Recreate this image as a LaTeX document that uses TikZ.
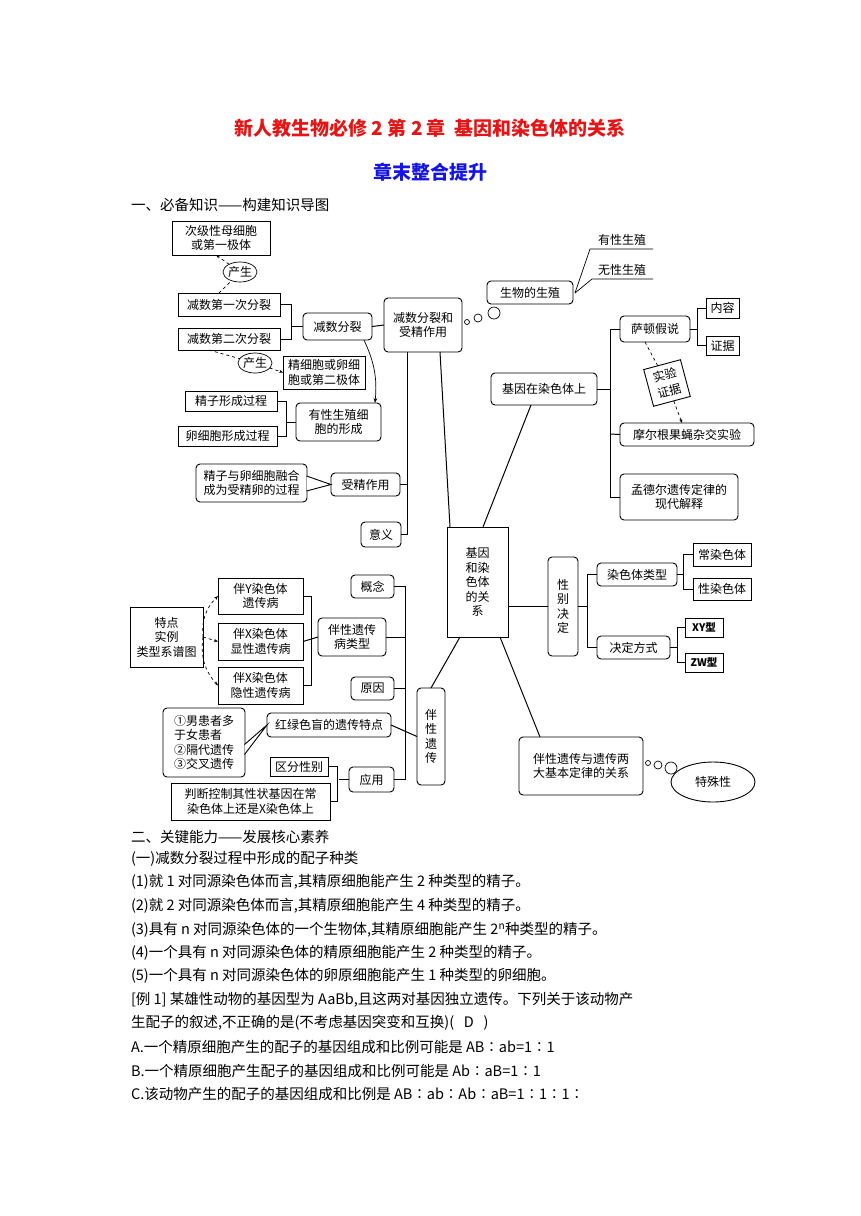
\documentclass[tikz,border=0pt]{standalone}
\usepackage{fontspec}
\setmainfont{Liberation Serif}
\newfontfamily\cjk{Noto Sans CJK SC}
\usetikzlibrary{arrows.meta,shapes.geometric}
\definecolor{tred}{RGB}{230,20,20}
\definecolor{tblue}{RGB}{20,20,230}
\newcommand\B[7]{\node[#6,minimum width={#4pt-#2pt},minimum height={#5pt-#3pt}] (#1) at ({(#2+#4)/2},{(#3+#5)/2}) {#7};}
\begin{document}
\begin{tikzpicture}[x=1pt,y=-1pt,
  every node/.style={font=\cjk\fontsize{12}{14.5}\selectfont,inner sep=0pt,outer sep=0pt,align=center},
  sq/.style={draw,line width=0.9pt},
  rb/.style={draw,line width=0.9pt,rounded corners=4pt},
  ln/.style={line width=1pt},
  dsh/.style={dashed,line width=0.7pt,-{Stealth[length=4pt]}},
  body/.style={anchor=west,font=\cjk\fontsize{14.5}{16}\selectfont,align=left}]
\useasboundingbox (0,0) rectangle (860,1216);
\node[font=\cjk\bfseries\fontsize{19}{22}\selectfont,text=tred] (t1) at (430,128) {新人教生物必修 2 第 2 章\ \ 基因和染色体的关系};
\node[font=\cjk\bfseries\fontsize{19}{22}\selectfont,text=tblue] (t2) at (430,172) {章末整合提升};
\node[body] (s1) at (131,205) {一、必备知识——构建知识导图};
\B{cj}{172}{221}{270}{255}{sq}{次级性母细胞\\或第一极体}
\B{d1}{178}{293}{280}{316}{sq}{减数第一次分裂}
\B{d2}{178}{328}{280}{350}{sq}{减数第二次分裂}
\B{js}{303}{313}{372}{340}{rb}{减数分裂}
\B{JS}{384}{298}{462}{352}{rb}{减数分裂和\\受精作用}
\node[draw,ellipse,line width=0.7pt,minimum width=30pt,minimum height=20pt] (cs1) at (240,272) {产生};
\node[draw,ellipse,line width=0.7pt,minimum width=30pt,minimum height=20pt] (cs2) at (255,363) {产生};
\B{jx}{283}{356}{365}{389}{sq}{精细胞或卵细\\胞或第二极体}
\B{jz}{185}{391}{277}{411}{sq}{精子形成过程}
\B{lx}{178}{426}{277}{446}{sq}{卵细胞形成过程}
\B{yx}{296}{403}{381}{441}{rb}{有性生殖细\\胞的形成}
\B{rh}{196}{464}{307}{502}{rb}{精子与卵细胞融合\\成为受精卵的过程}
\B{sj}{331}{473}{400}{496}{rb}{受精作用}
\B{yy}{361}{522}{401}{547}{rb}{意义}
\draw[dsh] ([xshift=-10pt]d1.north) -- (cs1) -- ([xshift=-5pt]cj.south);
\draw[dsh] ([xshift=-20pt]d2.south) -- (cs2) -- (jx.west);
\draw[ln] (d1.east) -- ++(11,0) |- (d2.east);
\draw[ln] ([xshift=11pt]d1.east |- js.west) -- (js.west);
\draw[ln] (js.east) -- (JS.west);
\draw[line width=0.7pt,-{Stealth[length=5pt]}] ([xshift=-8pt]js.south east) to[bend left=15] ([xshift=-6pt]yx.north east);
\draw[ln] (jz.east) -- ++(9,0) |- (lx.east);
\draw[ln] ([xshift=9pt]jz.east |- yx.west) -- (yx.west);
\draw[ln] ([xshift=-16pt]JS.south) -- ([xshift=-16pt]JS.south |- yy.east) -- (yy.east);
\draw[ln] (sj.east) -- ([xshift=-16pt]JS.south |- sj.east);
\fill[white] ([yshift=-8pt]rh.east) -- (sj.west) -- ([yshift=7pt]rh.east) -- cycle;
\draw[line width=0.9pt] ([xshift=-0.5pt,yshift=-8pt]rh.east) -- (sj.west) -- ([xshift=-0.5pt,yshift=7pt]rh.east);
\B{C}{447}{527}{508}{637}{sq}{基因\\和染\\色体\\的关\\系}
\draw[ln] ([xshift=3pt]C.north west) -- ([xshift=-22pt]JS.south east);
\B{sw}{487}{281}{573}{304}{rb}{生物的生殖}
\foreach \p/\r in {{(467,322)}/2.5,{(478,318)}/4,{(494,313)}/6}{\draw[line width=0.7pt] \p circle (\r);}
\node (ys) at (622,240) {有性生殖};
\node (ws) at (622,270) {无性生殖};
\coordinate (sr) at (575,293);
\draw[line width=0.7pt] (sr) -- (590,249) -- (653,249);
\draw[line width=0.7pt] (sr) -- (592,279) -- (653,279);
\B{gz}{491}{373}{597}{405}{rb}{基因在染色体上}
\draw[ln] ([xshift=36pt]C.north west) -- ([xshift=40pt]gz.south west);
\B{sd}{620}{316}{690}{342}{rb}{萨顿假说}
\B{mg}{620}{423}{754}{446}{rb}{摩尔根果蝇杂交实验}
\B{md}{620}{474}{738}{520}{rb}{孟德尔遗传定律的\\现代解释}
\B{nr}{706}{298}{739}{318}{sq}{内容}
\B{zj}{706}{336}{739}{355}{sq}{证据}
\draw[ln] (gz.east) -- (610,389);
\draw[ln] (sd.west) -| (610,497) -- (md.west);
\draw[ln] (610,434) -- (mg.west);
\draw[ln] (nr.west) -- ++(-9,0) |- (zj.west);
\draw[ln] (sd.east) -- ([xshift=-9pt]nr.west |- sd.east);
\node[sq,rotate=15,minimum width=38pt,minimum height=38pt,font=\cjk\fontsize{12}{17}\selectfont] (sy) at (667,383) {实验\\证据};
\draw[dashed,line width=0.7pt] ([xshift=-10pt]sd.south) -- (sy);
\draw[dsh] (sy) -- ([xshift=-5pt]mg.north);
\B{xb}{548}{557}{578}{656}{rb}{性\\别\\决\\定}
\draw[ln] (C.east |- xb.west) -- (xb.west);
\B{rs}{597}{563}{677}{586}{rb}{染色体类型}
\B{jd}{597}{636}{670}{659}{rb}{决定方式}
\draw[ln] (rs.west) -- ++(-10,0) |- (jd.west);
\draw[ln] (xb.east) -- (587,606.5);
\B{cr}{693}{543}{751}{566}{sq}{常染色体}
\B{xr}{693}{578}{751}{600}{sq}{性染色体}
\B{xy}{685}{618}{723}{637}{sq}{\fontsize{10.5}{12}\selectfont\bfseries XY型}
\B{zw}{685}{653}{723}{672}{sq}{\fontsize{10.5}{12}\selectfont\bfseries ZW型}
\draw[ln] (cr.west) -- ++(-10,0) |- (xr.west);
\draw[ln] (rs.east) -- (683,574.5);
\draw[ln] (xy.west) -- ++(-8,0) |- (zw.west);
\draw[ln] (jd.east) -- (677,647.5);
\B{gx}{519}{737}{643}{795}{rb}{伴性遗传与遗传两\\大基本定律的关系}
\draw[ln] ([xshift=-8pt]C.south east) -- ([xshift=21pt]gx.north west);
\foreach \p/\r in {{(648,763)}/2.5,{(658,765)}/4,{(671,768)}/6}{\draw[line width=0.7pt] \p circle (\r);}
\node[draw,ellipse,line width=0.9pt,minimum width=84pt,minimum height=40pt] (ts) at (713,782) {特殊性};
\B{bx}{417}{688}{445}{785}{rb}{伴\\性\\遗\\传}
\draw[ln] ([xshift=13pt]C.south west) -- (bx.north);
\B{gn}{351}{575}{394}{598}{rb}{概念}
\B{lx2}{318}{618}{386}{656}{rb}{伴性遗传\\病类型}
\B{yy2}{351}{677}{394}{700}{rb}{原因}
\B{hl}{267}{713}{391}{737}{rb}{红绿色盲的遗传特点}
\B{yyo}{349}{767}{394}{792}{rb}{应用}
\draw[ln] (gn.east) -- (405,586.5) |- (yyo.east);
\draw[ln] (lx2.east) -- (405,637);
\draw[ln] (yy2.east) -- (405,688.5);
\draw[ln] (hl.east) -- (bx.west);
\B{by}{218}{578}{303}{614}{sq}{伴Y染色体\\遗传病}
\B{bxx}{218}{623}{303}{660}{sq}{伴X染色体\\显性遗传病}
\B{byx}{218}{667}{303}{704}{sq}{伴X染色体\\隐性遗传病}
\draw[ln] (by.east) -- ++(8,0) |- (byx.east);
\draw[ln] (bxx.east) -- (lx2.west);
\B{td}{130}{607}{203}{667}{sq}{特点\\实例\\类型系谱图}
\draw[dsh] (td.east) to[bend left=25] (by.west);
\draw[dsh] (td.east) -- (bxx.west);
\draw[dsh] (td.east) to[bend right=25] (byx.west);
\node[rb,minimum width=82pt,minimum height=69pt,align=left] (nh) at (204,742.5) {①男患者多\\于女患者\\②隔代遗传\\③交叉遗传};
\fill[white] ([yshift=-12pt]nh.east) -- (hl.west) -- ([yshift=-2pt]nh.east) -- cycle;
\draw[line width=0.9pt] ([xshift=-0.5pt,yshift=-12pt]nh.east) -- (hl.west) -- ([xshift=-0.5pt,yshift=-2pt]nh.east);
\B{qf}{270}{757}{328}{776}{sq}{区分性别}
\B{pd}{171}{783}{330}{820}{sq}{判断控制其性状基因在常\\染色体上还是X染色体上}
\draw[ln] (qf.east) -- ++(9,0) |- (pd.east);
\draw[ln] (yyo.west) -- (339,779.5);
\node[body] (l1) at (131,837) {二、关键能力——发展核心素养};
\node[body] (l2) at (131,859) {(一)减数分裂过程中形成的配子种类};
\node[body] (l3) at (131,882) {(1)就 1 对同源染色体而言,其精原细胞能产生 2 种类型的精子。};
\node[body] (l4) at (131,906) {(2)就 2 对同源染色体而言,其精原细胞能产生 4 种类型的精子。};
\node[body] (l5) at (131,930) {(3)具有 n 对同源染色体的一个生物体,其精原细胞能产生 2\textsuperscript{n}种类型的精子。};
\node[body] (l6) at (131,953) {(4)一个具有 n 对同源染色体的精原细胞能产生 2 种类型的精子。};
\node[body] (l7) at (131,976) {(5)一个具有 n 对同源染色体的卵原细胞能产生 1 种类型的卵细胞。};
\node[body] (l8) at (131,1000) {[例 1] 某雄性动物的基因型为 AaBb,且这两对基因独立遗传。下列关于该动物产};
\node[body] (l9) at (131,1023) {生配子的叙述,不正确的是(不考虑基因突变和互换)(\ \ \ D\ \ \ )};
\node[body] (l10) at (131,1047) {A.一个精原细胞产生的配子的基因组成和比例可能是 AB∶ab=1∶1};
\node[body] (l11) at (131,1071) {B.一个精原细胞产生配子的基因组成和比例可能是 Ab∶aB=1∶1};
\node[body] (l12) at (131,1094) {C.该动物产生的配子的基因组成和比例是 AB∶ab∶Ab∶aB=1∶1∶1∶};
\end{tikzpicture}
\end{document}
